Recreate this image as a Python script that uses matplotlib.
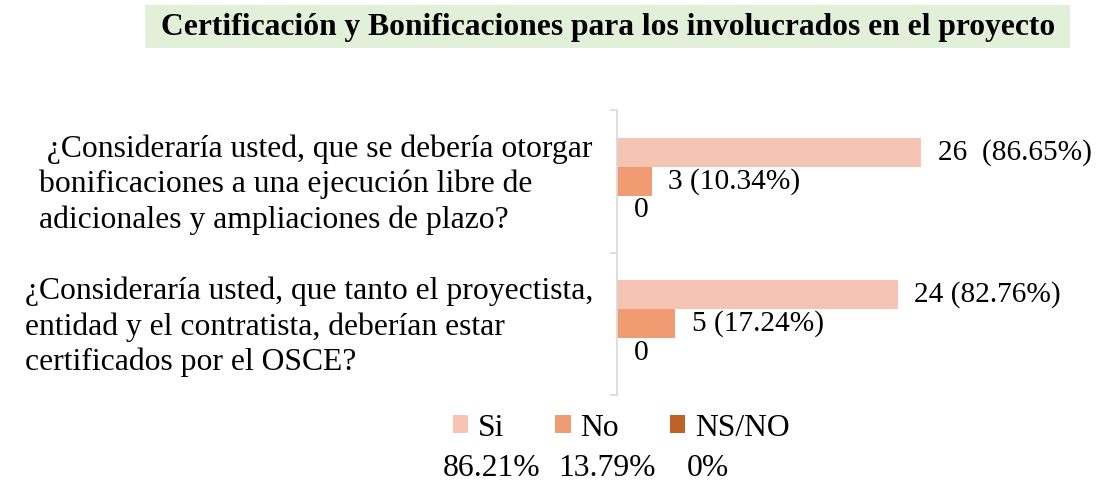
import matplotlib.pyplot as plt
from matplotlib.patches import Patch, Rectangle

plt.rcParams['font.family'] = ['Liberation Serif', 'DejaVu Serif']

# data
preguntas = [' ¿Consideraría usted, que se debería otorgar\nbonificaciones a una ejecución libre de\nadicionales y ampliaciones de plazo?',
             '¿Consideraría usted, que tanto el proyectista,\nentidad y el contratista, deberían estar\ncertificados por el OSCE?']
si = [26, 24]
no = [3, 5]
nsno = [0, 0]
si_labels = ['26  (86.65%)', '24 (82.76%)']
no_labels = ['3 (10.34%)', '5 (17.24%)']
nsno_labels = ['0', '0']
series = ['Si', 'No', 'NS/NO']
colores = ['#f5c4b3', '#f09b72', '#bf6128']
totales = ['86.21%', '13.79%', '0%']

fig = plt.figure(figsize=(10.99, 4.93), dpi=100)
ax = fig.add_axes([617/1099, 98/493, 1 - 617/1099, 285/493])

n = len(preguntas)
h = 0.2035
pos = [n - 1 - i for i in range(n)]
fs = 22.8

for vals, labs, col, off in [(si, si_labels, colores[0], h), (no, no_labels, colores[1], 0), (nsno, nsno_labels, colores[2], -h)]:
    ys = [p + off for p in pos]
    ax.barh(ys, vals, height=h, color=col)
    for y, v, l in zip(ys, vals, labs):
        ax.text(v + 1.4, y, l, va='center', ha='left', fontsize=21.2)

ax.set_xlim(0, 41.2)
ax.set_ylim(-0.5, n - 0.5)
ax.set_yticks([k - 0.5 for k in range(n + 1)])
ax.set_yticklabels([])
ax.tick_params(axis='y', length=5, color='#d9d9d9', width=1.2)
ax.set_xticks([])
for s in ['top', 'right', 'bottom']:
    ax.spines[s].set_visible(False)
ax.spines['left'].set_color('#d9d9d9')
ax.spines['left'].set_linewidth(1.2)

for p, q in zip(pos, preguntas):
    ax.text(-0.05, (p + 0.5) / n - 0.012, q, transform=ax.transAxes, ha='right', va='center',
            multialignment='left', fontsize=fs, linespacing=1.27)

# titulo
fig.patches.append(Rectangle((145/1099, 1 - 48/493), 925/1099, 43/493, transform=fig.transFigure,
                             facecolor='#e2efd9', edgecolor='none'))
fig.text(608/1099, 1 - 28/493, 'Certificación y Bonificaciones para los involucrados en el proyecto',
         ha='center', va='center', fontsize=22.7, fontweight='bold')

handles = [Patch(facecolor=c, edgecolor='none') for c in colores]
fig.legend(handles, series, loc='center', bbox_to_anchor=(621/1099, 1 - 428/493), ncol=3, frameon=False,
           fontsize=fs, handlelength=0.5, handleheight=0.5, handletextpad=0.3, columnspacing=1.6)

for x, t in zip([492, 607, 708], totales):
    fig.text(x/1099, 1 - 469/493, t, ha='center', va='center', fontsize=fs)

fig.savefig('out.png', dpi=100)
